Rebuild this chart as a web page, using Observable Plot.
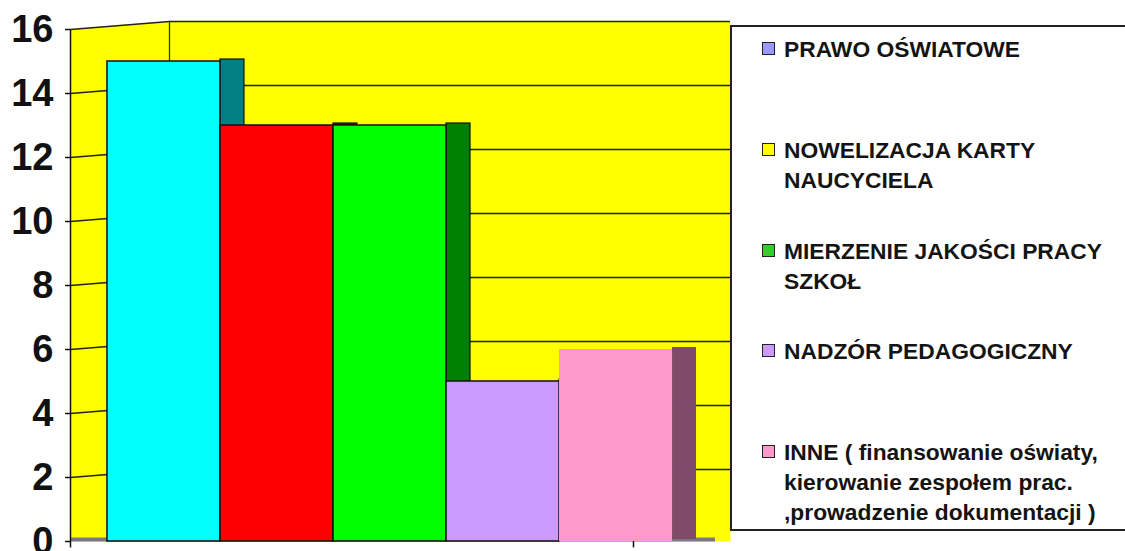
<!DOCTYPE html>
<html>
<head>
<meta charset="utf-8">
<script src="https://cdn.jsdelivr.net/npm/d3@7"></script>
<script src="https://cdn.jsdelivr.net/npm/@observablehq/plot@0.6"></script>
<style>
  html, body { margin: 0; padding: 0; background: #fff; }
  #wrap { position: relative; width: 1125px; height: 551px; overflow: hidden; font-family: "Liberation Sans", Arial, sans-serif; }
  #legend { position: absolute; left: 730px; top: 25px; width: 420px; height: 506px; border: 2px solid #222; background: #fff; box-sizing: border-box; }
  .item { position: absolute; left: 0; width: 400px; }
  .sw { position: absolute; left: 30px; width: 11px; height: 11px; border: 1.5px solid #222; }
  .txt { position: absolute; left: 52px; font-weight: bold; font-size: 22.8px; line-height: 30px; color: #141414; white-space: nowrap; }
</style>
</head>
<body>
<div id="wrap"><div id="chart"></div><div id="legend"></div></div>
<script>
// ---- data ----
const series = [
  "PRAWO OŚWIATOWE",
  "NOWELIZACJA KARTY NAUCYCIELA",
  "MIERZENIE JAKOŚCI PRACY SZKOŁ",
  "NADZÓR PEDAGOGICZNY",
  "INNE ( finansowanie oświaty, kierowanie zespołem prac. ,prowadzenie dokumentacji )"
];
const values = [15, 13, 13, 5, 6];
const frontColors = ["#00FFFF", "#FF0000", "#00FF00", "#CC99FF", "#FF99CC"];
const sideColors = ["#008080", "#800000", "#008000", "#664C80", "#804A68"];
const legendColors = ["#9999FF", "#FFFF00", "#33CC33", "#CC99FF", "#FF99CC"];
const legendLines = [
  ["PRAWO OŚWIATOWE"],
  ["NOWELIZACJA KARTY", "NAUCYCIELA"],
  ["MIERZENIE JAKOŚCI PRACY", "SZKOŁ"],
  ["NADZÓR PEDAGOGICZNY"],
  ["INNE ( finansowanie oświaty,", "kierowanie zespołem prac.", ",prowadzenie dokumentacji )"]
];
const yTicks = [0, 2, 4, 6, 8, 10, 12, 14, 16];

// ---- build ----
const data = series.map((s, i) => ({i, name: s, value: values[i], front: frontColors[i], side: sideColors[i]}));

const xDomain = [-0.327, 5.513];
const xRange = [70, 730];
const xs = d3.scaleLinear().domain(xDomain).range(xRange);
const yDomain = [0, 16];
const yRange = [541, 29];
const ys = d3.scaleLinear().domain(yDomain).range(yRange);
const xBack = xs.invert(169);      // back wall edge (decoration)
const yShift = ys.invert(0) - ys.invert(8); // 8px depth in data units
const xMin = xDomain[0];
const xCatTick = xs.invert(633);

const grid = yTicks.filter(v => v > 0);

const chart = Plot.plot({
  width: 1125,
  height: 551,
  marginLeft: 70,
  marginRight: 395,
  marginTop: 21,
  marginBottom: 10,
  x: {type: "linear", domain: xDomain, range: xRange, axis: null},
  y: {type: "linear", domain: yDomain, range: yRange, axis: null},
  style: {fontFamily: "'Liberation Sans', Arial, sans-serif", background: "transparent", overflow: "visible"},
  marks: [
    Plot.frame({fill: "#FFFF00", stroke: null}),
    // white corner above sloped side wall
    Plot.areaY([{x: xMin, y: 16}, {x: xBack, y: 16 + yShift}], {x: "x", y1: "y", y2: 16 + yShift + 0.03, fill: "#fff", curve: "linear"}),
    // gridlines: back wall
    Plot.ruleY(grid, {dy: -8, insetLeft: 99, stroke: "#222", strokeWidth: 1.4}),
    // gridlines: side wall (sloped)
    Plot.link(grid, {x1: xMin, y1: d => d, x2: xBack, y2: d => d + yShift, stroke: "#222", strokeWidth: 1.4}),
    // back wall vertical edge
    Plot.ruleX([xBack], {y1: 0, y2: 16 + yShift, stroke: "#333", strokeWidth: 1.3}),
    // floor
    Plot.ruleY([0], {dy: -2, stroke: "#7a7a7a", strokeWidth: 4, insetRight: 15}),
    // bar side faces
    Plot.rectY(data, {x1: d => d.i + 1, x2: d => d.i + 1, y1: 0, y2: "value", insetRight: -24, dy: -2, fill: d => d.side, stroke: d => d.i < 4 ? "#111" : "none", strokeWidth: 1.2}),
    // bar fronts
    Plot.rectY(data, {x1: "i", x2: d => d.i + 1, y1: 0, y2: "value", fill: d => d.front, stroke: d => d.i < 4 ? "#111" : "none", strokeWidth: 1.5}),
    // y axis line
    Plot.ruleX([xMin], {y1: -0.2, y2: 16, stroke: "#111", strokeWidth: 1.5}),
    // x category tick
    Plot.ruleX([xCatTick], {y1: 0, y2: -0.2, stroke: "#111", strokeWidth: 1.5}),
    Plot.axisY(yTicks, {anchor: "left", tickSize: 5, tickPadding: 12, fontSize: 38, fontWeight: "bold", fill: "#111", stroke: "#111", strokeWidth: 1.5})
  ]
});
document.getElementById("chart").appendChild(chart);

// ---- legend ----
const legend = document.getElementById("legend");
legendLines.forEach((lines, i) => {
  const center = 22 + 100.8 * i;
  const item = document.createElement("div");
  item.className = "item";
  const sw = document.createElement("div");
  sw.className = "sw";
  sw.style.top = (center - 7) + "px";
  sw.style.background = legendColors[i];
  const txt = document.createElement("div");
  txt.className = "txt";
  txt.style.top = (center - 15) + "px";
  txt.innerHTML = lines.join("<br>");
  item.appendChild(sw);
  item.appendChild(txt);
  legend.appendChild(item);
});
</script>
</body>
</html>
